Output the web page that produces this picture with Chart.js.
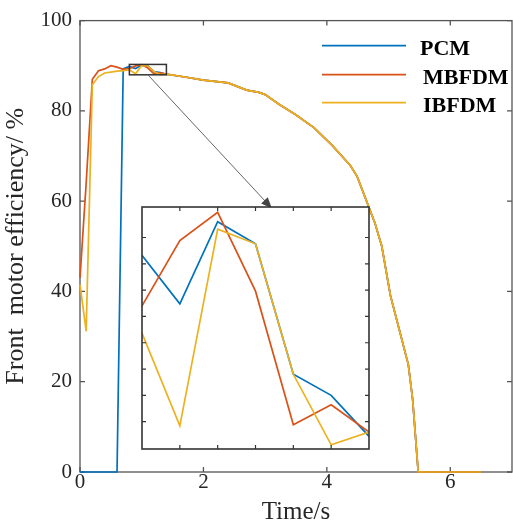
<!DOCTYPE html>
<html>
<head>
<meta charset="utf-8">
<script src="https://cdn.jsdelivr.net/npm/chart.js@4.4.0/dist/chart.umd.min.js"></script>
<style>
  html, body { margin: 0; padding: 0; background: #fff; }
  #wrap { position: relative; width: 513px; height: 530px; }
  #main { position: absolute; left: 0; top: 0; }
  #inset { position: absolute; left: 137px; top: 202px; }
</style>
</head>
<body>
<div id="wrap">
  <canvas id="main" width="513" height="530"></canvas>
  <canvas id="inset" width="237" height="252"></canvas>
</div>
<script>
// time axis (s)
const time = [0, 0.1, 0.2, 0.3, 0.4, 0.5, 0.6, 0.7, 0.8, 0.9, 1.0, 1.1, 1.2, 1.3, 1.4,
  1.7, 2.0, 2.4, 2.7, 2.9, 3.0, 3.23, 3.49, 3.79, 4.09, 4.38, 4.49, 4.78, 4.89, 5.03, 5.32, 5.39, 5.48, 6.5];

// front motor efficiency (%)
const pcm = [0, 0, 0, 0, 0, 0, 0, 89.3, 89.83, 89.37, 90.15, 89.94, 88.70, 88.50, 88.11,
  87.5, 86.8, 86.2, 84.6, 84.1, 83.6, 81.4, 79.2, 76.3, 72.3, 67.9, 65.5, 55.1, 50.0, 39.1, 23.8, 16.1, 0, 0];
const mbfdm = [43, 64, 87, 88.9, 89.3, 90.0, 89.7, 89.2, 89.35, 89.97, 90.24, 89.49, 88.22, 88.41, 88.15,
  87.5, 86.8, 86.2, 84.6, 84.1, 83.6, 81.4, 79.2, 76.3, 72.3, 67.9, 65.5, 55.1, 50.0, 39.1, 23.8, 16.1, 0, 0];
const ibfdm = [41.5, 31.2, 85.8, 87.6, 88.4, 88.6, 88.8, 88.9, 89.09, 88.21, 90.08, 89.94, 88.70, 88.03, 88.15,
  87.5, 86.8, 86.2, 84.6, 84.1, 83.6, 81.4, 79.2, 76.3, 72.3, 67.9, 65.5, 55.1, 50.0, 39.1, 23.8, 16.1, 0, 0];

const seriesNames = ['PCM', 'MBFDM', 'IBFDM'];
const seriesColors = ['#0072BD', '#D95319', '#EDB120'];

const xTicks = [0, 2, 4, 6];
const yTicks = [0, 20, 40, 60, 80, 100];

// zoomed window
const insetX = [0.8, 1.4];
const insetY = [87.99, 90.29];
const insetXTicks = [0.9, 1.0, 1.1, 1.2, 1.3];
const insetYTicks = [88.25, 88.5, 88.75, 89.0, 89.25, 89.5, 89.75, 90.0];

Chart.defaults.font.family = "'Liberation Serif', 'Times New Roman', serif";
Chart.defaults.font.size = 21;
Chart.defaults.color = '#262626';

const axisColor = '#555';

function makeDatasets(clip) {
  return [pcm, mbfdm, ibfdm].map((vals, i) => ({
    label: seriesNames[i],
    data: time.map((t, k) => ({ x: t, y: vals[k] })),
    borderColor: seriesColors[i],
    backgroundColor: seriesColors[i],
    borderWidth: 1.7,
    pointRadius: 0,
    tension: 0,
    fill: false,
    clip: clip,
    order: 3 - i
  }));
}

const mainDecor = {
  id: 'mainDecor',
  beforeDatasetsDraw(chart) {
    const { ctx, chartArea: a, scales: { x, y } } = chart;
    ctx.save();
    ctx.strokeStyle = axisColor;
    ctx.lineWidth = 1.3;
    ctx.strokeRect(a.left, a.top, a.right - a.left, a.bottom - a.top);
    ctx.beginPath();
    xTicks.forEach(v => {
      const px = x.getPixelForValue(v);
      ctx.moveTo(px, a.bottom); ctx.lineTo(px, a.bottom - 5);
      ctx.moveTo(px, a.top); ctx.lineTo(px, a.top + 5);
    });
    yTicks.forEach(v => {
      const py = y.getPixelForValue(v);
      ctx.moveTo(a.left, py); ctx.lineTo(a.left + 5, py);
      ctx.moveTo(a.right, py); ctx.lineTo(a.right - 5, py);
    });
    ctx.stroke();
    ctx.restore();
  },
  afterDatasetsDraw(chart) {
    const { ctx, chartArea: a, scales: { x, y } } = chart;
    ctx.save();
    // zoom box
    const x0 = x.getPixelForValue(insetX[0]), x1 = x.getPixelForValue(insetX[1]);
    const y0 = y.getPixelForValue(insetY[1]), y1 = y.getPixelForValue(insetY[0]);
    ctx.strokeStyle = '#333';
    ctx.lineWidth = 1.5;
    ctx.strokeRect(x0, y0, x1 - x0, y1 - y0);

    // arrow towards the inset
    const sx = x.getPixelForValue(1.1), sy = y1;
    const ex = x.getPixelForValue(3.11), ey = y.getPixelForValue(58.4);
    const ang = Math.atan2(ey - sy, ex - sx);
    ctx.strokeStyle = '#666';
    ctx.fillStyle = '#444';
    ctx.lineWidth = 1;
    ctx.beginPath();
    ctx.moveTo(sx, sy);
    ctx.lineTo(ex - 8 * Math.cos(ang), ey - 8 * Math.sin(ang));
    ctx.stroke();
    ctx.beginPath();
    ctx.moveTo(ex, ey);
    ctx.lineTo(ex - 11 * Math.cos(ang) + 4.5 * Math.sin(ang), ey - 11 * Math.sin(ang) - 4.5 * Math.cos(ang));
    ctx.lineTo(ex - 11 * Math.cos(ang) - 4.5 * Math.sin(ang), ey - 11 * Math.sin(ang) + 4.5 * Math.cos(ang));
    ctx.closePath();
    ctx.fill();

    // legend
    ctx.font = "bold 22px 'Liberation Serif', 'Times New Roman', serif";
    ctx.textAlign = 'left';
    ctx.textBaseline = 'alphabetic';
    const rows = [25, 54, 82];
    seriesNames.forEach((name, i) => {
      const ly = a.top + rows[i];
      ctx.strokeStyle = seriesColors[i];
      ctx.lineWidth = 1.7;
      ctx.beginPath();
      ctx.moveTo(a.right - 190, ly);
      ctx.lineTo(a.right - 106, ly);
      ctx.stroke();
      ctx.fillStyle = '#000';
      ctx.fillText(name, a.right - (i === 0 ? 92 : 89), ly + 9);
    });
    ctx.restore();
  }
};

new Chart(document.getElementById('main'), {
  type: 'line',
  data: { datasets: makeDatasets(false) },
  options: {
    responsive: false,
    animation: false,
    layout: { padding: { top: 15, right: 1, left: 0, bottom: 0 } },
    plugins: { legend: { display: false }, tooltip: { enabled: false } },
    scales: {
      x: {
        type: 'linear',
        min: 0,
        max: 7,
        grid: { display: false, drawTicks: false },
        border: { display: false },
        afterBuildTicks: s => { s.ticks = xTicks.map(v => ({ value: v })); },
        afterFit: s => { s.height = 58; },
        ticks: { padding: -2, maxRotation: 0 },
        title: { display: true, text: 'Time/s', font: { size: 25 }, padding: { top: 0, bottom: 3 } }
      },
      y: {
        min: 0,
        max: 100,
        grid: { display: false, drawTicks: false },
        border: { display: false },
        afterBuildTicks: s => { s.ticks = yTicks.map(v => ({ value: v })); },
        afterFit: s => { s.width = 80; },
        ticks: { padding: 8 },
        title: { display: true, text: 'Front  motor efficiency/ %', font: { size: 26 }, padding: { top: 1, bottom: 0 } }
      }
    }
  },
  plugins: [mainDecor]
});

const insetDecor = {
  id: 'insetDecor',
  beforeDatasetsDraw(chart) {
    const { ctx, chartArea: a } = chart;
    ctx.save();
    ctx.fillStyle = '#fff';
    ctx.fillRect(a.left, a.top, a.right - a.left, a.bottom - a.top);
    ctx.restore();
  },
  afterDatasetsDraw(chart) {
    const { ctx, chartArea: a, scales: { x, y } } = chart;
    ctx.save();
    ctx.strokeStyle = '#333';
    ctx.lineWidth = 1.6;
    ctx.strokeRect(a.left, a.top, a.right - a.left, a.bottom - a.top);
    ctx.lineWidth = 1.2;
    ctx.beginPath();
    insetXTicks.forEach(v => {
      const px = x.getPixelForValue(v);
      ctx.moveTo(px, a.bottom); ctx.lineTo(px, a.bottom - 4);
      ctx.moveTo(px, a.top); ctx.lineTo(px, a.top + 4);
    });
    insetYTicks.forEach(v => {
      const py = y.getPixelForValue(v);
      ctx.moveTo(a.left, py); ctx.lineTo(a.left + 4, py);
      ctx.moveTo(a.right, py); ctx.lineTo(a.right - 4, py);
    });
    ctx.stroke();
    ctx.restore();
  }
};

new Chart(document.getElementById('inset'), {
  type: 'line',
  data: { datasets: makeDatasets(undefined) },
  options: {
    responsive: false,
    animation: false,
    layout: { padding: 5 },
    plugins: { legend: { display: false }, tooltip: { enabled: false } },
    scales: {
      x: { type: 'linear', display: false, min: insetX[0], max: insetX[1] },
      y: { display: false, min: insetY[0], max: insetY[1] }
    }
  },
  plugins: [insetDecor]
});
</script>
</body>
</html>
